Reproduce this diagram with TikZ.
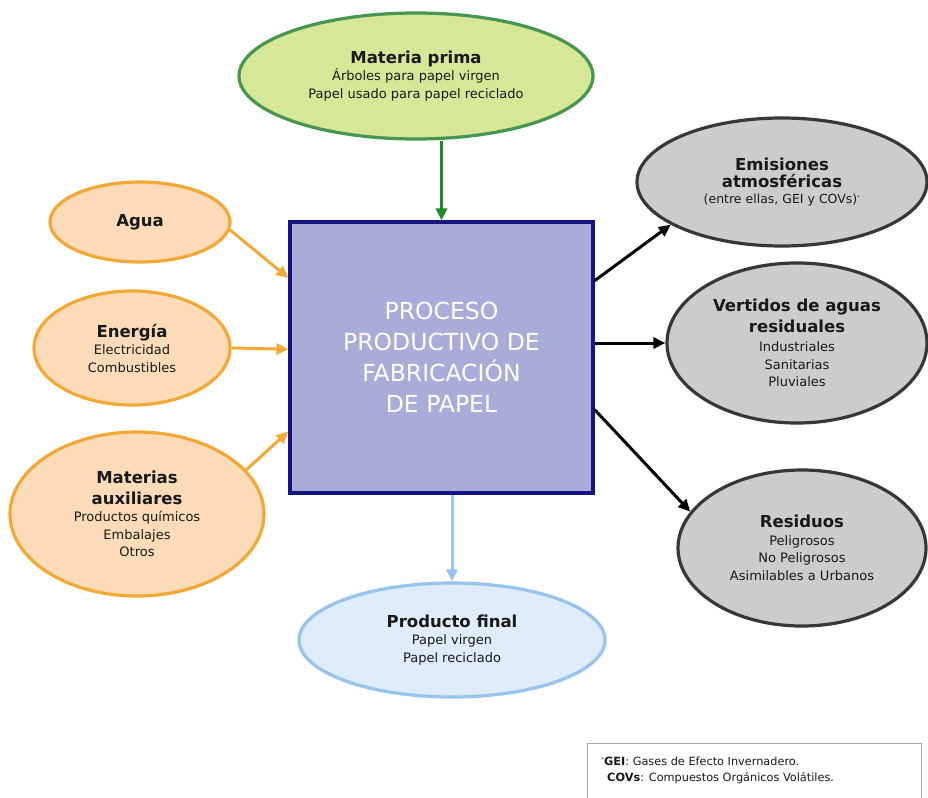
\documentclass[tikz,border=0pt]{standalone}
\usepackage{fontspec}
\setmainfont{DejaVu Sans}
\usetikzlibrary{shapes.geometric,arrows.meta,calc}
\definecolor{greenfill}{RGB}{214,232,152}
\definecolor{greenline}{RGB}{70,150,80}
\definecolor{greenarrow}{RGB}{30,140,40}
\definecolor{orangefill}{RGB}{252,220,184}
\definecolor{orangeline}{RGB}{244,168,52}
\definecolor{boxfill}{RGB}{170,172,216}
\definecolor{boxline}{RGB}{20,20,130}
\definecolor{greyfill}{RGB}{204,204,204}
\definecolor{greyline}{RGB}{55,55,55}
\definecolor{bluefill}{RGB}{222,236,251}
\definecolor{blueline}{RGB}{150,195,240}
\definecolor{txt}{RGB}{25,25,25}
\tikzset{
  ell/.style={ellipse, draw, line width=3.2pt, inner sep=0pt, align=center, text=txt, font=\fontsize{13}{17.5}\selectfont},
  inell/.style={ell, fill=orangefill, draw=orangeline},
  outell/.style={ell, fill=greyfill, draw=greyline},
  procbox/.style={rectangle, draw=boxline, fill=boxfill, line width=3.2pt, inner sep=0pt, align=center, text=white, font=\fontsize{23.5}{31}\selectfont},
  arr/.style={line width=3pt, -{Triangle[length=12pt,width=11pt]}}
}
\newcommand{\ttlt}[1]{{\fontsize{16.5}{20}\selectfont\bfseries #1}}
\begin{document}
\begin{tikzpicture}[x=1pt,y=-1pt]
\useasboundingbox (0,0) rectangle (928,797);
\fill[white] (0,0) rectangle (928,797);

% central box
\node[procbox, minimum width=303pt, minimum height=271pt] (box) at (441.5,357.5)
  {PROCESO\\PRODUCTIVO DE\\FABRICACIÓN\\DE PAPEL};

% top input
\node[ell, fill=greenfill, draw=greenline, minimum width=354pt, minimum height=126pt] (mp) at (416,76)
  {\ttlt{Materia prima}\\Árboles para papel virgen\\Papel usado para papel reciclado};

% left inputs
\node[inell, minimum width=180pt, minimum height=80pt] (agua) at (140,222) {\ttlt{Agua}};
\node[inell, minimum width=196pt, minimum height=114pt] (ener) at (132,348)
  {\ttlt{Energía}\\Electricidad\\Combustibles};
\node[inell, minimum width=254pt, minimum height=164pt] (mat) at (137,514)
  {\ttlt{Materias}\\[3pt]\ttlt{auxiliares}\\Productos químicos\\Embalajes\\Otros};

% right outputs
\node[outell, minimum width=290pt, minimum height=128pt] (emis) at (782,182)
  {\ttlt{Emisiones}\\\ttlt{atmosféricas}\\[-2pt]{\fontsize{12.5}{16}\selectfont (entre ellas, GEI y COVs)\textsuperscript{\tiny *}}};
\node[outell, minimum width=260pt, minimum height=160pt] (vert) at (797,343)
  {\ttlt{Vertidos de aguas}\\[3pt]\ttlt{residuales}\\[2pt]Industriales\\Sanitarias\\Pluviales};
\node[outell, minimum width=248pt, minimum height=156pt] (res) at (802,548)
  {\ttlt{Residuos}\\Peligrosos\\No Peligrosos\\Asimilables a Urbanos};

% bottom output
\node[ell, fill=bluefill, draw=blueline, minimum width=306pt, minimum height=114pt] (prod) at (452,640)
  {\ttlt{Producto final}\\Papel virgen\\Papel reciclado};

% anchor points on the box
\coordinate (bA) at ($(box.north west)!0.21!(box.south west)$);
\coordinate (bE) at ($(box.north west)!0.47!(box.south west)$);
\coordinate (bM) at ($(box.north west)!0.77!(box.south west)$);
\coordinate (bR1) at ($(box.north east)!0.22!(box.south east)$);
\coordinate (bR3) at ($(box.north east)!0.69!(box.south east)$);

% arrows
\draw[arr, greenarrow] (box.north |- mp.south) -- (box.north);
\draw[arr, orangeline] (agua.-5) -- (bA);
\draw[arr, orangeline] (ener.east) -- (bE);
\draw[arr, orangeline] (mat.22) -- (bM);
\draw[arr, black] (bR1) -- (emis.201);
\draw[arr, black] (box.east |- vert.west) -- (vert.west);
\draw[arr, black] (bR3) -- (res.162);
\draw[arr, blueline] (prod.north |- box.south) -- (prod.north);

% legend
\draw[gray!70, line width=1pt] (587,800) -- (587,743) -- (921,743) -- (921,800);
\node[anchor=north west, align=left, inner sep=0pt, text=txt, font=\fontsize{11.3}{16}\selectfont] (leg) at (601,757)
  {\textsuperscript{\tiny *}\textbf{GEI}: Gases de Efecto Invernadero.\\
   \hspace*{6pt}\textbf{COVs}: Compuestos Orgánicos Volátiles.};
\end{tikzpicture}
\end{document}
